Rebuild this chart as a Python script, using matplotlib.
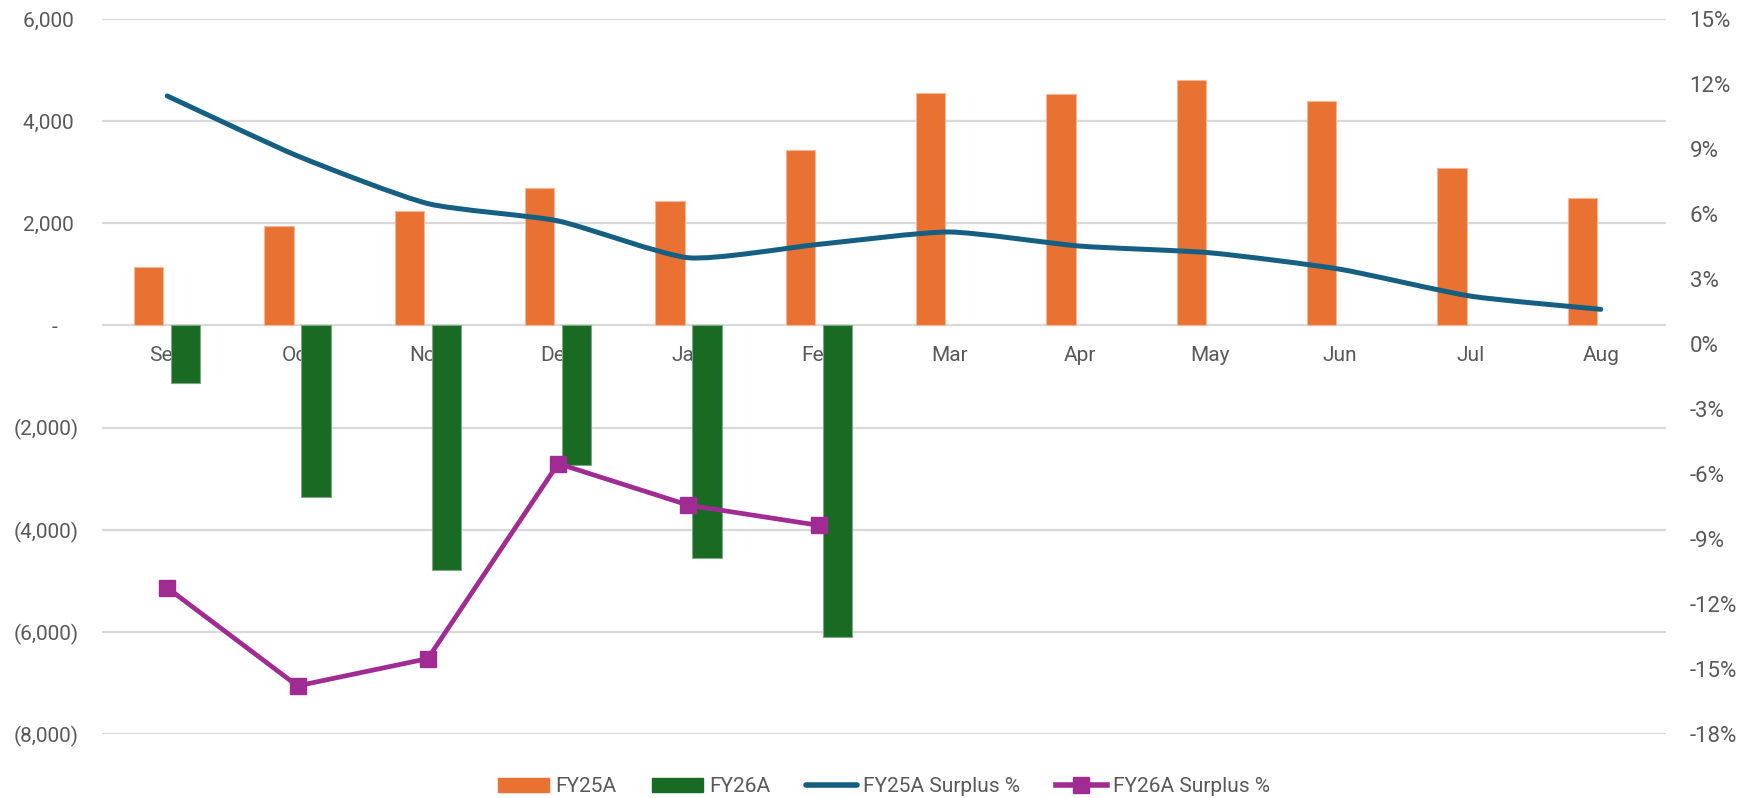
import numpy as np
import matplotlib
matplotlib.use("Agg")
from matplotlib import pyplot as plt
from matplotlib.path import Path
from matplotlib.patches import PathPatch, Patch
from matplotlib.lines import Line2D
import matplotlib.ticker as ticker

months = ['Sep', 'Oct', 'Nov', 'Dec', 'Jan', 'Feb', 'Mar', 'Apr', 'May', 'Jun', 'Jul', 'Aug']
fy25 = [1140, 1950, 2250, 2700, 2440, 3440, 4550, 4530, 4810, 4390, 3090, 2490]
fy26 = [-1130, -3360, -4780, -2730, -4560, -6110]
fy25_pct = [11.45, 8.68, 6.48, 5.68, 3.98, 4.6, 5.17, 4.52, 4.21, 3.45, 2.21, 1.6]
fy26_pct = [-11.25, -15.78, -14.52, -5.52, -7.44, -8.37]

left_ticks = [-8000, -6000, -4000, -2000, 0, 2000, 4000, 6000]
right_ticks = list(range(-18, 16, 3))

c_orange = '#E97132'
c_green = '#196B24'
c_blue = '#156082'
c_purple = '#A02B93'
c_text = '#595959'
c_grid = '#D9D9D9'

plt.rcParams['font.family'] = ['Roboto', 'DejaVu Sans']

fig = plt.figure(figsize=(17.56, 7.98), dpi=100)
ax = fig.add_axes([0.0581, 0.0802, 0.8906, 0.896])
ax2 = ax.twinx()

x = np.arange(len(months))
w = 0.226
off = 0.142
ax.bar(x - off, fy25, width=w, color=c_orange, edgecolor='#F3B89A', lw=0.8, zorder=1)
ax.bar(x[:len(fy26)] + off, fy26, width=w, color=c_green, edgecolor='#7FA884', lw=0.8, zorder=1)

ax.set_xlim(-0.5, len(months) - 0.5)
ax.set_ylim(left_ticks[0], left_ticks[-1])
ax.set_yticks(left_ticks)

def acct(v, pos=None):
    # excel accounting style
    if v == 0:
        return '-    '
    if v < 0:
        return '({:,.0f})'.format(-v)
    return '{:,.0f} '.format(v)

ax.set_yticklabels([acct(v) for v in left_ticks])
ax.set_axisbelow(True)
ax.yaxis.grid(True, color=c_grid, lw=1.6)
ax.xaxis.grid(False)
ax.set_xticks(x)
ax.set_xticklabels(months)
ax.spines['bottom'].set_position(('data', 0))
for s in ax.spines.values():
    s.set_visible(False)
ax.tick_params(axis='x', length=0, pad=15, labelsize=15, labelcolor=c_text)
ax.tick_params(axis='y', length=0, pad=17, labelsize=15, labelcolor=c_text)

# lightly smoothed line like excel (cubic bezier through the points)
k = 10.0
px = np.asarray(x, dtype=float)
py = np.asarray(fy25_pct, dtype=float)
verts = [(px[0], py[0])]
codes = [Path.MOVETO]
n = len(px)
for i in range(n - 1):
    p0 = np.array([px[max(i - 1, 0)], py[max(i - 1, 0)]])
    p1 = np.array([px[i], py[i]])
    p2 = np.array([px[i + 1], py[i + 1]])
    p3 = np.array([px[min(i + 2, n - 1)], py[min(i + 2, n - 1)]])
    c1 = p1 + (p2 - p0) / k
    c2 = p2 - (p3 - p1) / k
    verts += [tuple(c1), tuple(c2), tuple(p2)]
    codes += [Path.CURVE4, Path.CURVE4, Path.CURVE4]
ax2.add_patch(PathPatch(Path(verts, codes), fill=False, edgecolor=c_blue,
                        lw=3.6, capstyle='round', joinstyle='round', zorder=3))

ax2.plot(x[:len(fy26_pct)], fy26_pct, color=c_purple, lw=3.4, marker='s',
         markersize=11, zorder=4)

ax2.set_ylim(right_ticks[0], right_ticks[-1])
ax2.set_yticks(right_ticks)
ax2.yaxis.set_major_formatter(ticker.FuncFormatter(lambda v, p: '{:.0f}%'.format(v)))
for s in ax2.spines.values():
    s.set_visible(False)
ax2.tick_params(axis='y', length=0, pad=17, labelsize=16, labelcolor=c_text)

handles = [Patch(color=c_orange), Patch(color=c_green),
           Line2D([], [], color=c_blue, lw=4, solid_capstyle='round'),
           Line2D([], [], color=c_purple, lw=4, marker='s', markersize=11)]
labels = ['FY25A', 'FY26A', 'FY25A Surplus %', 'FY26A Surplus %']
fig.legend(handles, labels, loc='center', bbox_to_anchor=(0.5034, 0.0142), ncol=4,
           frameon=False, fontsize=15, labelcolor=c_text, handlelength=2.45,
           handleheight=0.62, handletextpad=0.3, columnspacing=1.7)

fig.savefig('out.png', dpi=100)
